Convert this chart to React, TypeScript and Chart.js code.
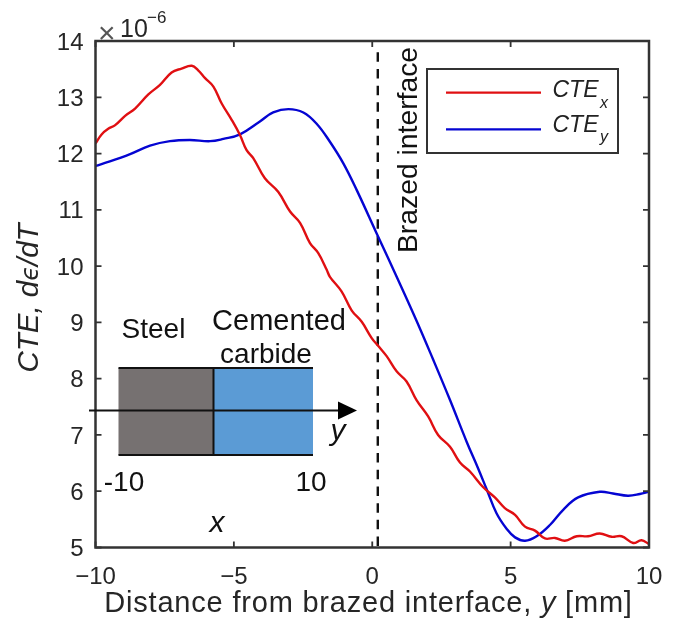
import React, { useEffect, useRef } from "react";
import { Chart, registerables } from "chart.js";

Chart.register(...registerables);

const xTicks = [-10, -5, 0, 5, 10];
const yTicks = [5, 6, 7, 8, 9, 10, 11, 12, 13, 14];

const cteXPos = [-10,-9.78,-9.54,-9.3,-8.93,-8.57,-8.09,-7.67,-7.25,-6.89,-6.52,-6.29,-6.04,-5.74,-5.44,-5.08,-4.78,-4.54,-4.3,-3.88,-3.4,-2.97,-2.61,-2.25,-1.95,-1.65,-1.53,-1.11,-0.74,-0.38,-0.02,0.22,0.52,0.88,1.24,1.6,2.02,2.38,2.81,3.17,3.53,4.01,4.43,4.79,5.16,5.52,5.88,6.24,6.6,6.96,7.39,7.8,8.22,8.65,9.01,9.43,9.73,10];
const cteXVal = [12.18,12.34,12.44,12.5,12.67,12.8,13.05,13.22,13.44,13.51,13.56,13.48,13.34,13.19,12.89,12.6,12.33,12.06,11.92,11.56,11.32,10.97,10.77,10.41,10.23,9.94,9.81,9.55,9.21,9.01,8.72,8.58,8.4,8.13,7.95,7.62,7.33,7,6.79,6.51,6.35,6.07,5.89,5.7,5.58,5.37,5.3,5.16,5.17,5.12,5.2,5.2,5.25,5.19,5.2,5.08,5.13,5.06];

const cteYPos = [-10,-9.48,-8.75,-8.03,-7.31,-6.59,-5.86,-5.38,-4.78,-4.06,-3.58,-3.03,-2.49,-2.01,-1.53,-1.05,-0.56,0.16,0.94,1.6,2.2,2.81,3.41,3.83,4.13,4.49,4.86,5.16,5.52,5.94,6.42,6.9,7.44,8.22,8.7,9.24,9.67,10];
const cteYVal = [11.78,11.86,11.99,12.14,12.22,12.24,12.22,12.26,12.34,12.57,12.73,12.79,12.73,12.53,12.21,11.83,11.35,10.58,9.75,9.03,8.34,7.62,6.88,6.4,6.04,5.61,5.33,5.18,5.12,5.2,5.4,5.67,5.89,5.99,5.96,5.92,5.95,5.99];

const interfacePos = [0.2, 0.2];
const interfaceVal = [13.8, 5];

const seriesNames = ["CTE", "CTE"];
const seriesSubs = ["x", "y"];
const RED = "#e00f12";
const BLUE = "#0505d2";
const INK = "#262626";
const AXIS = "#333333";
const SANS = '"Liberation Sans", Arial, sans-serif';

type Seg = [string, string];

function drawSegs(ctx: CanvasRenderingContext2D, segs: Seg[], x: number, y: number) {
  let cx = x;
  for (const [font, t] of segs) {
    ctx.font = font;
    ctx.fillText(t, cx, y);
    cx += ctx.measureText(t).width;
  }
}

function segsWidth(ctx: CanvasRenderingContext2D, segs: Seg[]) {
  let w = 0;
  for (const [font, t] of segs) {
    ctx.font = font;
    w += ctx.measureText(t).width;
  }
  return w;
}

const overlay = {
  id: "overlay",
  afterDatasetsDraw(chart: any) {
    const ctx: CanvasRenderingContext2D = chart.ctx;
    const { left, right, top, bottom } = chart.chartArea;
    const sx = chart.scales.x;
    const sy = chart.scales.y;
    ctx.save();

    // frame + inward ticks
    ctx.strokeStyle = AXIS;
    ctx.lineWidth = 2.5;
    ctx.strokeRect(left, top, right - left, bottom - top);
    ctx.lineWidth = 1.8;
    ctx.beginPath();
    for (const v of xTicks) {
      const p = sx.getPixelForValue(v);
      ctx.moveTo(p, top); ctx.lineTo(p, top + 6);
      ctx.moveTo(p, bottom); ctx.lineTo(p, bottom - 6);
    }
    for (const v of yTicks) {
      const p = sy.getPixelForValue(v);
      ctx.moveTo(left, p); ctx.lineTo(left + 6, p);
      ctx.moveTo(right, p); ctx.lineTo(right - 6, p);
    }
    ctx.stroke();

    // multiplier
    ctx.textAlign = "left";
    ctx.textBaseline = "alphabetic";
    ctx.fillStyle = "#555";
    ctx.font = `30px ${SANS}`;
    ctx.fillText("×", 98, 43);
    ctx.fillStyle = INK;
    ctx.font = `25px ${SANS}`;
    ctx.fillText("10", 120, 37);
    ctx.font = `17px ${SANS}`;
    ctx.fillText("−6", 147, 23);

    // x title
    ctx.letterSpacing = "0.8px";
    const xt: Seg[] = [
      [`29px ${SANS}`, "Distance from brazed interface, "],
      [`italic 29px ${SANS}`, "y"],
      [`29px ${SANS}`, " [mm]"],
    ];
    drawSegs(ctx, xt, 368.5 - segsWidth(ctx, xt) / 2, 612);
    ctx.letterSpacing = "0px";

    // y title
    const yt: Seg[] = [
      [`italic 29.5px ${SANS}`, "CTE, d"],
      [`italic 24px "DejaVu Sans", ${SANS}`, "ϵ"],
      [`italic 29.5px ${SANS}`, "/dT"],
    ];
    ctx.save();
    ctx.translate(38, 298);
    ctx.rotate(-Math.PI / 2);
    drawSegs(ctx, yt, -segsWidth(ctx, yt) / 2, 0);
    ctx.restore();

    // interface label
    ctx.save();
    ctx.translate(417, 253);
    ctx.rotate(-Math.PI / 2);
    ctx.font = `28.3px ${SANS}`;
    ctx.fillStyle = "#111";
    ctx.fillText("Brazed interface", 0, 0);
    ctx.restore();

    // legend
    ctx.strokeStyle = AXIS;
    ctx.lineWidth = 2;
    ctx.fillStyle = "#fff";
    ctx.fillRect(427, 69, 191, 84);
    ctx.strokeRect(427, 69, 191, 84);
    chart.data.datasets.slice(0, 2).forEach((d: any, i: number) => {
      const ly = i === 0 ? 92.7 : 129.3;
      ctx.strokeStyle = d.borderColor;
      ctx.lineWidth = 2.2;
      ctx.beginPath();
      ctx.moveTo(446, ly);
      ctx.lineTo(541, ly);
      ctx.stroke();
      ctx.fillStyle = "#222";
      ctx.font = `italic 23px ${SANS}`;
      ctx.fillText(seriesNames[i], 552.5, i === 0 ? 97 : 132);
      ctx.font = `italic 16px ${SANS}`;
      ctx.fillText(seriesSubs[i], 600, i === 0 ? 108 : 142);
    });

    // inset schematic
    ctx.fillStyle = "#767171";
    ctx.fillRect(118.5, 368, 95, 87);
    ctx.fillStyle = "#5b9bd5";
    ctx.fillRect(213.5, 368, 99.5, 87);
    ctx.strokeStyle = "#111";
    ctx.lineWidth = 2;
    ctx.beginPath();
    ctx.moveTo(118.5, 368); ctx.lineTo(313, 368);
    ctx.moveTo(118.5, 455); ctx.lineTo(313, 455);
    ctx.moveTo(213.5, 368); ctx.lineTo(213.5, 455);
    ctx.moveTo(89, 410.5); ctx.lineTo(340, 410.5);
    ctx.stroke();
    ctx.fillStyle = "#000";
    ctx.beginPath();
    ctx.moveTo(338, 401.5); ctx.lineTo(357, 410.5); ctx.lineTo(338, 419.5);
    ctx.closePath();
    ctx.fill();

    ctx.fillStyle = "#111";
    ctx.font = `28px ${SANS}`;
    ctx.textAlign = "center";
    ctx.fillText("Steel", 153.5, 338);
    ctx.fillText("carbide", 266, 362.5);
    ctx.fillText("-10", 124, 491);
    ctx.fillText("10", 311, 491);
    ctx.font = `29px ${SANS}`;
    ctx.fillText("Cemented", 279, 330);
    ctx.font = `italic 30px ${SANS}`;
    ctx.fillText("y", 338, 440);
    ctx.fillText("x", 217, 532);
    ctx.restore();
  },
};

export default function App() {
  const ref = useRef<HTMLCanvasElement>(null);
  useEffect(() => {
    const chart = new Chart(ref.current!, {
      type: "line",
      data: {
        datasets: [
          {
            label: "CTEx",
            data: cteXPos.map((x, i) => ({ x, y: cteXVal[i] })),
            borderColor: RED,
            borderWidth: 2.4,
            pointRadius: 0,
            tension: 0.4,
          },
          {
            label: "CTEy",
            data: cteYPos.map((x, i) => ({ x, y: cteYVal[i] })),
            borderColor: BLUE,
            borderWidth: 2.4,
            pointRadius: 0,
            tension: 0.4,
          },
          {
            label: "Brazed interface",
            data: interfacePos.map((x, i) => ({ x, y: interfaceVal[i] })),
            borderColor: "#111",
            borderWidth: 2.4,
            borderDash: [9.5, 7.2],
            pointRadius: 0,
          },
        ],
      } as any,
      options: {
        animation: false,
        responsive: false,
        layout: { padding: { left: 0, right: 26, top: 41, bottom: 0 } },
        plugins: { legend: { display: false }, tooltip: { enabled: false }, title: { display: false } },
        scales: {
          x: {
            type: "linear",
            min: -10,
            max: 10,
            afterBuildTicks: (s: any) => { s.ticks = xTicks.map((value) => ({ value })); },
            afterFit: (s: any) => { s.height = 85.5; },
            grid: { display: false },
            border: { display: false },
            ticks: {
              color: INK,
              font: { family: "Liberation Sans", size: 24 },
              maxRotation: 0,
              autoSkip: false,
              padding: 7,
              callback: (v: any) => String(v).replace("-", "−"),
            },
          },
          y: {
            type: "linear",
            min: 5,
            max: 14,
            afterBuildTicks: (s: any) => { s.ticks = yTicks.map((value) => ({ value })); },
            afterFit: (s: any) => {
              s.width = 95.5;
              if (!s.__shifted) {
                s.__shifted = true;
                const orig = s.drawLabels;
                s.drawLabels = function (area: any) {
                  this.ctx.save();
                  this.ctx.translate(0, 2);
                  orig.call(this, area);
                  this.ctx.restore();
                };
              }
            },
            grid: { display: false },
            border: { display: false },
            ticks: {
              color: INK,
              font: { family: "Liberation Sans", size: 24 },
              autoSkip: false,
              padding: 4,
            },
          },
        },
      } as any,
      plugins: [overlay],
    });
    return () => chart.destroy();
  }, []);
  return (
    <canvas
      ref={ref}
      width={675}
      height={633}
      style={{ position: "absolute", left: 0, top: 0, display: "block", background: "#fff" }}
    />
  );
}
